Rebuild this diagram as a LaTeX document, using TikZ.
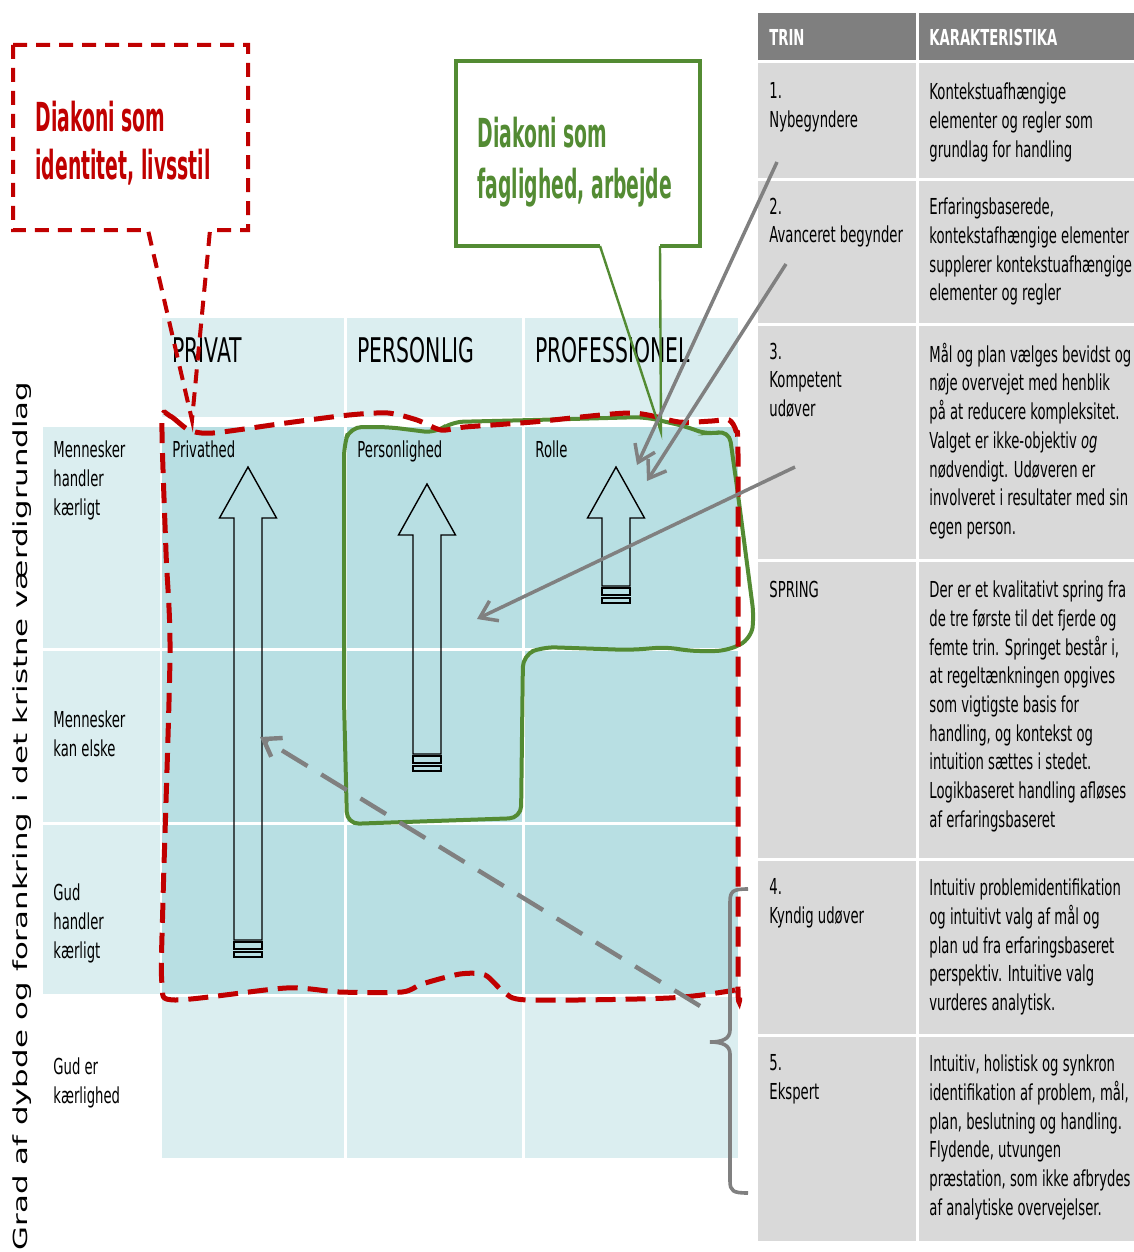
\documentclass[tikz,border=0pt]{standalone}
\usepackage{fontspec}
\setmainfont[FakeStretch=0.6]{DejaVu Sans}
\newfontfamily\calloutfont[FakeStretch=0.47]{DejaVu Sans}
\newfontfamily\sidefont[FakeStretch=1.59]{DejaVu Sans}
\usepackage{tikz}
\usetikzlibrary{arrows.meta}
\usetikzlibrary{positioning}
\definecolor{cellpale}{RGB}{219,238,240}
\definecolor{celldeep}{RGB}{184,223,227}
\definecolor{headgray}{RGB}{127,127,127}
\definecolor{rowgray}{RGB}{217,217,217}
\definecolor{diared}{RGB}{192,0,0}
\definecolor{diagreen}{RGB}{83,139,51}
\definecolor{arrowgray}{RGB}{128,128,128}
\tikzstyle{colhead} = [font=\fontsize{17}{20}\selectfont, anchor=west, inner sep=0pt]
\tikzstyle{celltext} = [font=\fontsize{11}{14.35}\selectfont, anchor=north west,
    inner sep=0pt, align=left]
\tikzstyle{trinhead} = [font=\bfseries\fontsize{11}{14}\selectfont, text=white,
    anchor=base west, inner sep=0pt]
\tikzstyle{callout} = [font=\calloutfont\bfseries\fontsize{20}{24}\selectfont,
    anchor=north west, inner sep=0pt, align=left]
\tikzstyle{sidetext} = [font=\sidefont\fontsize{9.7}{12}\selectfont, inner sep=0pt]
\tikzstyle{blockarrow} = [draw=black, line width=0.7pt]
\tikzstyle{reddash} = [draw=diared, line width=2pt, dash pattern=on 7pt off 4.5pt]
\tikzstyle{greenline} = [draw=diagreen, line width=2pt]
\tikzstyle{pointer} = [draw=arrowgray, line width=1.75pt,
    -{Straight Barb[length=8pt,width=11pt]}]

\begin{document}
\begin{tikzpicture}[x=0.5pt, y=-0.5pt]
    \useasboundingbox (0,0) rectangle (1134,1252);

    % grid of the three roles
    \fill[cellpale] (162,318) rectangle (344,417);
    \fill[cellpale] (347,318) rectangle (522,417);
    \fill[cellpale] (525,318) rectangle (738,417);
    \foreach \t/\b in {427/648, 651/822, 825/994} {
        \fill[cellpale] (43,\t) rectangle (160,\b);
        \fill[celldeep] (162,\t) rectangle (344,\b);
        \fill[celldeep] (347,\t) rectangle (522,\b);
        \fill[celldeep] (525,\t) rectangle (738,\b);
    }
    \fill[cellpale] (162,997) rectangle (344,1158);
    \fill[cellpale] (347,997) rectangle (522,1158);
    \fill[cellpale] (525,997) rectangle (738,1158);

    \node[colhead] (privat) at (172,350) {PRIVAT};
    \node[colhead] (personlig) at (357,350) {PERSONLIG};
    \node[colhead] (professionel) at (535,350) {PROFESSIONEL};
    \node[celltext] (privathed) at (172,440.5) {Privathed};
    \node[celltext] (personlighed) at (357,440.5) {Personlighed};
    \node[celltext] (rolle) at (535,440.5) {Rolle};

    \node[celltext] (row1) at (53,440.5) {Mennesker\\handler\\kærligt};
    \node[celltext] (row2) at (53,710.5) {Mennesker\\kan elske};
    \node[celltext] (row3) at (53,883.5) {Gud\\handler\\kærligt};
    \node[celltext] (row4) at (53,1057.5) {Gud er\\kærlighed};

    \node[sidetext, rotate=90] (axis) at (22,816)
        {Grad af dybde og forankring i det kristne værdigrundlag};

    % striped block arrows
    \foreach \x/\tip/\base/\bot in {248/467/518/940, 427/484/535/754, 616/467/518/586} {
        \draw[blockarrow] (\x,\tip) -- (\x+28.5,\base) -- (\x+14,\base) -- (\x+14,\bot)
            -- (\x-14,\bot) -- (\x-14,\base) -- (\x-28.5,\base) -- cycle;
        \draw[blockarrow] (\x-14,\bot+2) rectangle (\x+14,\bot+9);
        \draw[blockarrow] (\x-14,\bot+12) rectangle (\x+14,\bot+17);
    }

    % green region
    \draw[greenline, rounded corners=6pt] (344,445) -- (350,427) -- (388,427) -- (436,433)
        -- (451,422) -- (533,420) -- (645,417) -- (688,427) -- (708,435) -- (729,430)
        -- (737,487) -- (754,617) -- (751,639) -- (727,651) -- (688,651) -- (668,647)
        -- (630,650) -- (543,647) -- (523,655) -- (521,818) -- (347,824) -- (344,700) -- cycle;

    % red region
    \draw[reddash, line width=2.5pt, dash pattern=on 10pt off 5pt] plot[smooth cycle, tension=0.45]
        coordinates {(162,422) (170,416) (189,430) (213,433) (286,423) (349,415) (388,413)
        (417,420) (441,430) (465,427) (533,422) (630,413) (679,422) (712,421) (729,420)
        (736,431) (738,455) (738,700) (738,985) (735,990) (669,998) (528,1000) (504,992)
        (485,975) (460,974) (422,984) (402,992) (339,992) (286,988) (175,1000) (162,984)
        (163,900) (170,655) (166,552)};

    % callouts
    \draw[reddash] (13,45) -- (248,45) -- (248,230) -- (210,230) -- (192,420)
        -- (148,230) -- (13,230) -- cycle;
    \node[callout, text=diared] (identitet) at (35,101) {Diakoni som\\identitet, livsstil};

    \draw[greenline] (600,246) -- (456,246) -- (456,61) -- (700,61) -- (700,246) -- (660,246);
    \draw[greenline, line width=1.2pt] (600,246) -- (661,432) -- (660,246);
    \node[callout, text=diagreen, font=\calloutfont\bfseries\fontsize{20}{25.5}\selectfont]
        (faglighed) at (477,117) {Diakoni som\\faglighed, arbejde};

    % table of steps
    \fill[headgray] (758,13) rectangle (916,60);
    \fill[headgray] (919,13) rectangle (1134,60);
    \foreach \t/\b in {63/178, 181/323, 326/559, 562/858, 861/1034, 1037/1241} {
        \fill[rowgray] (758,\t) rectangle (916,\b);
        \fill[rowgray] (919,\t) rectangle (1134,\b);
    }
    \node[trinhead] (trin) at (769,46) {TRIN};
    \node[trinhead] (karak) at (929,46) {KARAKTERISTIKA};

    \node[celltext] (step1) at (769,82.5) {1.\\Nybegyndere};
    \node[celltext] (char1) at (929,82.5) {Kontekstuafhængige\\elementer og regler som\\grundlag for handling};
    \node[celltext] (step2) at (769,197.5) {2.\\Avanceret begynder};
    \node[celltext] (char2) at (929,197.5) {Erfaringsbaserede,\\kontekstafhængige elementer\\supplerer kontekstuafhængige\\elementer og regler};
    \node[celltext] (step3) at (769,342.5) {3.\\Kompetent\\udøver};
    \node[celltext] (char3) at (929,342.5) {Mål og plan vælges bevidst og\\nøje overvejet med henblik\\på at reducere kompleksitet.\\Valget er ikke-objektiv \textit{og}\\nødvendigt. Udøveren er\\involveret i resultater med sin\\egen person.};
    \node[celltext] (spring) at (769,580.5) {SPRING};
    \node[celltext] (charspring) at (929,580.5) {Der er et kvalitativt spring fra\\de tre første til det fjerde og\\femte trin. Springet består i,\\at regeltænkningen opgives\\som vigtigste basis for\\handling, og kontekst og\\intuition sættes i stedet.\\Logikbaseret handling afløses\\af erfaringsbaseret};
    \node[celltext] (step4) at (769,878.5) {4.\\Kyndig udøver};
    \node[celltext] (char4) at (929,878.5) {Intuitiv problemidentifikation\\og intuitivt valg af mål og\\plan ud fra erfaringsbaseret\\perspektiv. Intuitive valg\\vurderes analytisk.};
    \node[celltext] (step5) at (769,1054.5) {5.\\Ekspert};
    \node[celltext] (char5) at (929,1054.5) {Intuitiv, holistisk og synkron\\identifikation af problem, mål,\\plan, beslutning og handling.\\Flydende, utvungen\\præstation, som ikke afbrydes\\af analytiske overvejelser.};

    % gray pointers from the steps into the grid
    \coordinate (from1) at (777,162);
    \coordinate (to1) at (637,465);
    \coordinate (from2) at (786,264);
    \coordinate (to2) at (647,481);
    \coordinate (from3) at (795,467);
    \coordinate (to3) at (477,619);
    \coordinate (from4) at (700,1006);
    \coordinate (to4) at (260,737);
    \draw[pointer] (from1) -- (to1);
    \draw[pointer] (from2) -- (to2);
    \draw[pointer] (from3) -- (to3);
    \draw[pointer, line width=2.2pt, dash pattern=on 15pt off 8pt] (from4) -- (to4);

    % brace over steps 4 and 5
    \coordinate (bracehigh) at (748,889);
    \coordinate (bracetip) at (710,1042);
    \coordinate (bracelow) at (748,1193);
    \draw[arrowgray, line width=1.8pt]
        (bracehigh) .. controls (733,889) and (730,891) .. (730,902) -- (730,1030)
        .. controls (730,1039) and (722,1042) .. (bracetip)
        .. controls (722,1042) and (730,1045) .. (730,1054) -- (730,1181)
        .. controls (730,1191) and (733,1193) .. (bracelow);
\end{tikzpicture}
\end{document}
